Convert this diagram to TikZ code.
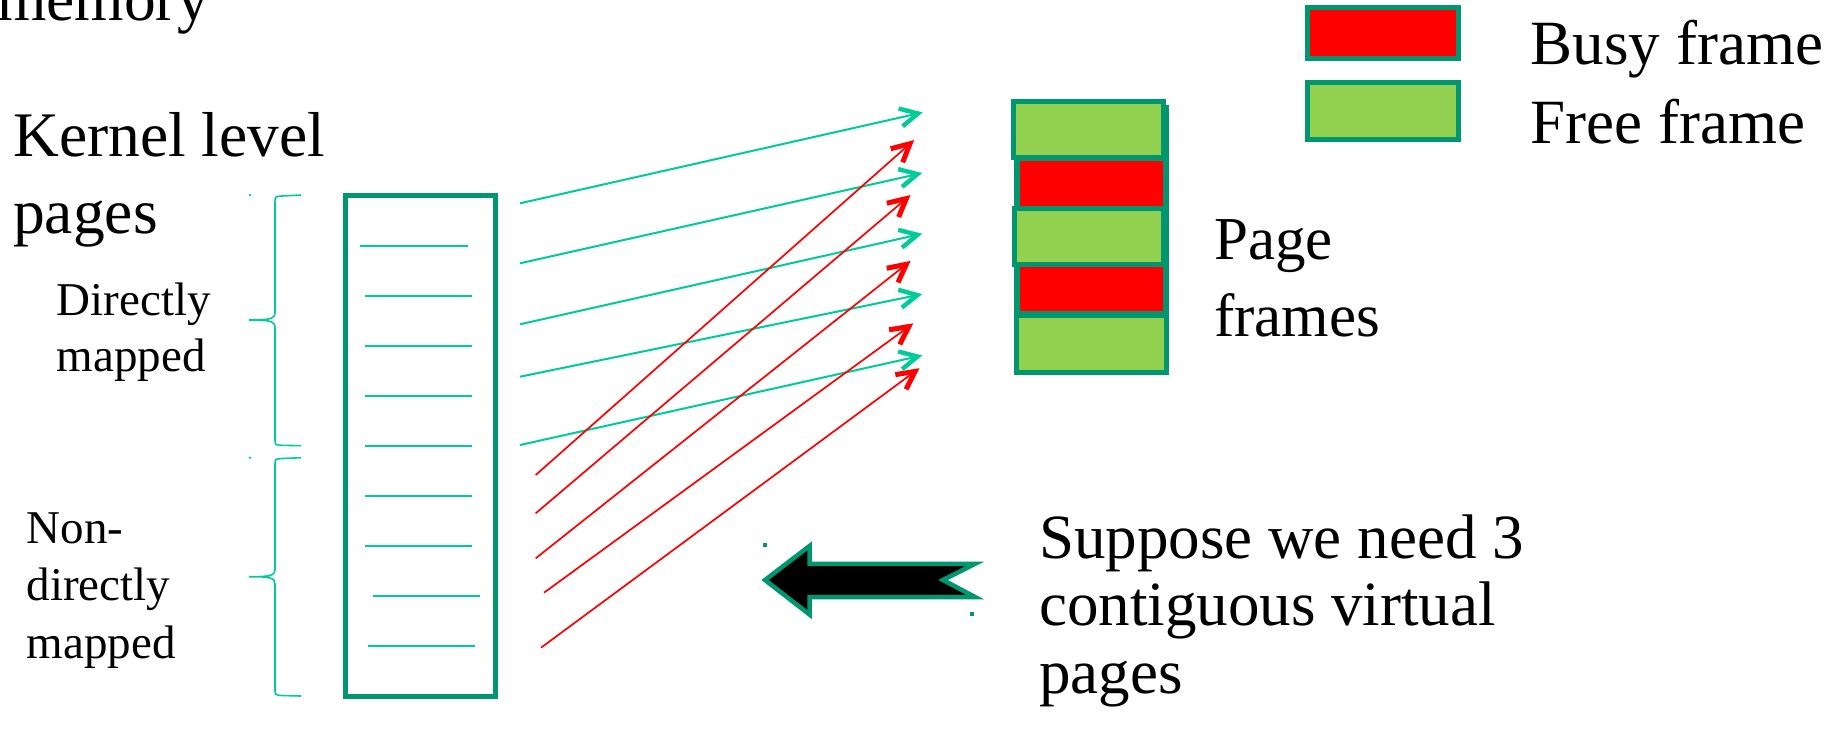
\documentclass[tikz,border=0pt]{standalone}
\usepackage{fontspec}
\setmainfont{Liberation Serif}
\usetikzlibrary{calc}
\definecolor{dkgreen}{HTML}{009670}
\definecolor{ltteal}{HTML}{00CC99}
\definecolor{ltgreen}{HTML}{92D050}
\definecolor{busyred}{HTML}{FF0000}
\begin{document}
\begin{tikzpicture}[x=1pt,y=-1pt,
  framebox/.style={draw=dkgreen, line width=5pt, inner sep=0pt, outer sep=0pt},
  busybox/.style={framebox, fill=busyred},
  freebox/.style={framebox, fill=ltgreen},
  slot/.style={draw=ltteal, line width=2pt},
  brace/.style={draw=ltteal, line width=1.6pt},
  lbl/.style={inner sep=0pt, anchor=base west, align=left, text=black}
]
\clip (0,0) rectangle (1844,729);
\fill[white] (0,0) rectangle (1844,729);

% texts (anchor = baseline of last line)
\node[lbl, font=\fontsize{63.5}{76.5}\selectfont] (mem) at (-3,20) {memory};
\node[lbl, font=\fontsize{63.5}{76.5}\selectfont] (kern) at (13,233.3) {Kernel level\\pages};
\node[lbl, font=\fontsize{47}{56}\selectfont] (dir) at (56.5,371.7) {Directly\\mapped};
\node[lbl, font=\fontsize{47}{57.3}\selectfont] (ndir) at (26.5,658) {Non-\\directly\\mapped};
\node[lbl, font=\fontsize{61}{77.4}\selectfont] (pf) at (1214,336.7) {Page\\frames};
\node[lbl, font=\fontsize{63}{67.3}\selectfont] (sup) at (1039,693) {Suppose we need 3\\contiguous virtual\\pages};
\node[lbl, font=\fontsize{63}{72}\selectfont] (busyt) at (1530.7,64) {Busy frame};
\node[lbl, font=\fontsize{63}{72}\selectfont] (freet) at (1530.7,143.3) {Free frame};

% legend boxes
\node[busybox, minimum width=150.3pt, minimum height=50.3pt] (busyL) at (1382.85,32.85) {};
\node[freebox, minimum width=150.3pt, minimum height=56.3pt] (freeL) at (1382.85,110.85) {};

% page table
\node[draw=dkgreen, line width=5pt, minimum width=150pt, minimum height=500.3pt, inner sep=0pt] (pt) at (420,445.85) {};
\draw[slot] (360,245.7) -- (467.7,245.7);
\draw[slot] (365,295.7) -- (472,295.7);
\draw[slot] (365,345.7) -- (472,345.7);
\draw[slot] (365,395.7) -- (472,395.7);
\draw[slot] (365,445.7) -- (472,445.7);
\draw[slot] (365,495.7) -- (472,495.7);
\draw[slot] (365,545.7) -- (472,545.7);
\draw[slot] (373,595.7) -- (479.7,595.7);
\draw[slot] (368,645.7) -- (475,645.7);

% braces
\draw[brace] (301,195) -- (282,196) .. controls (275,196.5) .. (275,203) -- (275,312)
  .. controls (275,319) and (270,320) .. (249,320)
  .. controls (270,320) and (275,321) .. (275,328) -- (275,438)
  .. controls (275,445) .. (282,445.3) -- (301,445.7);
\draw[brace] (301,457.7) -- (282,458.5) .. controls (275,459) .. (275,465) -- (275,569)
  .. controls (275,576) and (270,576.7) .. (249,576.7)
  .. controls (270,576.7) and (275,577.5) .. (275,584) -- (275,688)
  .. controls (275,695) .. (282,695.5) -- (301,696);
\fill[ltteal] (250,195) circle (1.3pt);
\fill[ltteal] (250,457.7) circle (1.3pt);

% page frames
\node[framebox, minimum width=150pt, minimum height=265pt] (pfback) at (1091.5,240) {};
\node[freebox, minimum width=150pt, minimum height=55.7pt] (f1) at (1088.2,129.6) {};
\node[busybox, minimum width=148.5pt, minimum height=50pt] (f2) at (1091.7,183) {};
\node[freebox, minimum width=149pt, minimum height=56pt] (f3) at (1088.5,236) {};
\node[busybox, minimum width=148.5pt, minimum height=49.5pt] (f4) at (1091.7,288.8) {};
\node[freebox, minimum width=150pt, minimum height=57.5pt] (f5) at (1091.5,343.75) {};

% mapping arrows
\coordinate (g1s) at (520,203.3); \coordinate (g1e) at (918,113.5);
\coordinate (g2s) at (520,263.3); \coordinate (g2e) at (917.5,174.1);
\coordinate (g3s) at (520,324.3); \coordinate (g3e) at (917.5,234.8);
\coordinate (g4s) at (520,376.7); \coordinate (g4e) at (917.5,295.1);
\coordinate (g5s) at (520,445);   \coordinate (g5e) at (917.5,356.5);

\coordinate (r1s) at (535.7,475);   \coordinate (r1e) at (910,143.7);
\coordinate (r2s) at (535.7,513.3); \coordinate (r2e) at (906.3,198.6);
\coordinate (r3s) at (535.7,558.3); \coordinate (r3e) at (906.3,264.3);
\coordinate (r4s) at (544,592.7);   \coordinate (r4e) at (908.8,326.6);
\coordinate (r5s) at (541,647.7);   \coordinate (r5e) at (915,371.4);

\foreach \s/\e/\c/\w/\b in {g1s/g1e/ltteal/2/4.4, g2s/g2e/ltteal/2/4.4, g3s/g3e/ltteal/2/4.4, g4s/g4e/ltteal/2/4.4, g5s/g5e/ltteal/2/4.4,
                         r1s/r1e/busyred/1.7/5, r2s/r2e/busyred/1.7/5, r3s/r3e/busyred/1.7/5, r4s/r4e/busyred/1.7/5, r5s/r5e/busyred/1.7/5}{
  \draw[draw=\c, line width=\w pt] (\s) -- (\e);
  \draw[draw=\c, line width=\b pt, line join=miter, line cap=butt]
    ($(\e)!20pt!27:(\s)$) -- (\e) -- ($(\e)!20pt!-27:(\s)$);
}

% big block arrow
\draw[draw=dkgreen, fill=black, line width=4.5pt, line join=miter]
  (765,580) -- (809.5,546) -- (809.5,563.8) -- (975,563.8) -- (943,580)
  -- (975,597) -- (809.5,597) -- (809.5,614.5) -- cycle;
\fill[dkgreen] (763,543) rectangle +(4,4);
\fill[dkgreen] (970,612) rectangle +(4,4);
\end{tikzpicture}
\end{document}
